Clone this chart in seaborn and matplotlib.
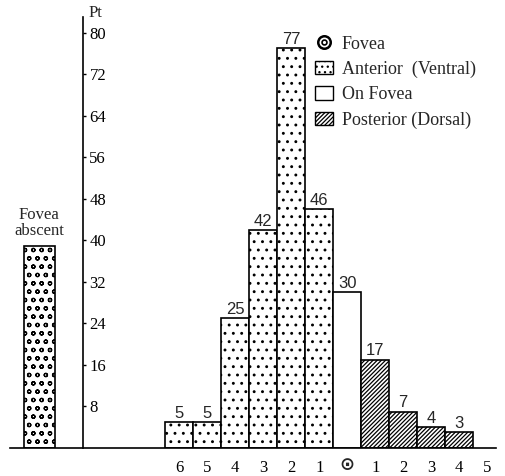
import matplotlib
matplotlib.use('Agg')
import matplotlib.pyplot as plt
import seaborn as sns
import pandas as pd
from matplotlib.patches import Patch
from matplotlib.lines import Line2D
from matplotlib.legend_handler import HandlerTuple

# ---- data ----
positions = [-5, 0, 1, 2, 3, 4, 5, 6, 7, 8, 9, 10]
values = [39, 5, 5, 25, 42, 77, 46, 30, 17, 7, 4, 3]
groups = ['Absent'] + ['Anterior'] * 6 + ['On Fovea'] + ['Posterior'] * 4
tick_positions = list(range(12))
tick_labels = ['6', '5', '4', '3', '2', '1', '', '1', '2', '3', '4', '5']
fovea_tick = 6
fovea_symbol = '\u2299'
y_ticks = [8, 16, 24, 32, 40, 48, 56, 64, 72, 80]
legend_labels = ['Fovea', 'Anterior  (Ventral)', 'On Fovea', 'Posterior (Dorsal)']

sns.set_style('white')
plt.rcParams['font.family'] = ['Liberation Serif', 'DejaVu Sans']
plt.rcParams['hatch.linewidth'] = 0.9

hatches = {'Absent': 'oo', 'Anterior': '..', 'On Fovea': '', 'Posterior': '////////'}

fig = plt.figure(figsize=(5.06, 4.76), dpi=100)
ax = fig.add_axes([0, 28 / 476, 504 / 506, 436 / 476])

df = pd.DataFrame({'pos': positions, 'value': values, 'group': groups})
sns.barplot(data=df, x='pos', y='value', native_scale=True, width=1.0,
            color='white', edgecolor='black', linewidth=1.2, errorbar=None, ax=ax)

for p in ax.patches:
    c = p.get_x() + p.get_width() / 2
    i = min(range(len(positions)), key=lambda k: abs(positions[k] - c))
    p.set_facecolor('white')
    p.set_hatch(hatches[groups[i]])
    if groups[i] == 'Absent':
        p.set_width(1.1)
        p.set_x(positions[i] - 0.55)

bar_texts = ['' if g == 'Absent' else str(v) for g, v in zip(groups, values)]
ax.bar_label(ax.containers[0], labels=bar_texts, padding=1, fontsize=12,
             family='Liberation Sans')

ax.set_xlim(-6.4, 11.6)
ax.set_ylim(0, 84)

for s in ['top', 'left']:
    ax.spines[s].set_visible(False)
ax.spines['right'].set_position(('data', -3.43))
ax.spines['right'].set_bounds(0, 83)
ax.spines['right'].set_linewidth(1.2)
ax.spines['bottom'].set_bounds(-6.05, 11.3)
ax.spines['bottom'].set_linewidth(1.2)
for s in ['right', 'bottom']:
    ax.spines[s].set_color('black')

ax.yaxis.tick_right()
ax.set_yticks(y_ticks)
ax.set_yticklabels([str(t) for t in y_ticks])
ax.tick_params(axis='y', direction='out', length=2.5, width=1, pad=2,
               labelsize=12, colors='black')
ax.set_xticks(tick_positions)
ax.set_xticklabels(tick_labels)
ax.tick_params(axis='x', length=0, pad=9, labelsize=12, colors='black')
ax.set_xlabel('')
ax.set_ylabel('')

# fovea symbol under the "on fovea" position (as tick text)
ax.text(fovea_tick, -3.3, fovea_symbol, ha='center', va='center', fontsize=13,
        family='DejaVu Sans', fontweight='bold', clip_on=False)

ax.text(-3.0, 83.8, 'Pt', ha='center', va='center', fontsize=12, clip_on=False)
ax.text(-5, 40.3, 'Fovea\nabscent', ha='center', va='bottom', fontsize=12,
        linespacing=0.95)

fovea_handle = (Line2D([], [], marker='o', ms=9, mfc='white', mec='black', mew=1.8, ls='none'),
                Line2D([], [], marker='o', ms=3.5, mfc='white', mec='black', mew=1.2, ls='none'))
handles = [fovea_handle,
           Patch(facecolor='white', edgecolor='black', hatch='...'),
           Patch(facecolor='white', edgecolor='black', hatch=''),
           Patch(facecolor='white', edgecolor='black', hatch='////////')]
ax.legend(handles, legend_labels, loc='upper left',
          bbox_to_anchor=(313 / 506, 1 - 34 / 476), bbox_transform=fig.transFigure,
          frameon=False, fontsize=13, borderaxespad=0, borderpad=0.1,
          handlelength=1.0, handleheight=0.75, handletextpad=0.5, labelspacing=0.45,
          handler_map={tuple: HandlerTuple(ndivide=1)})

fig.savefig('out.png', dpi=100)
